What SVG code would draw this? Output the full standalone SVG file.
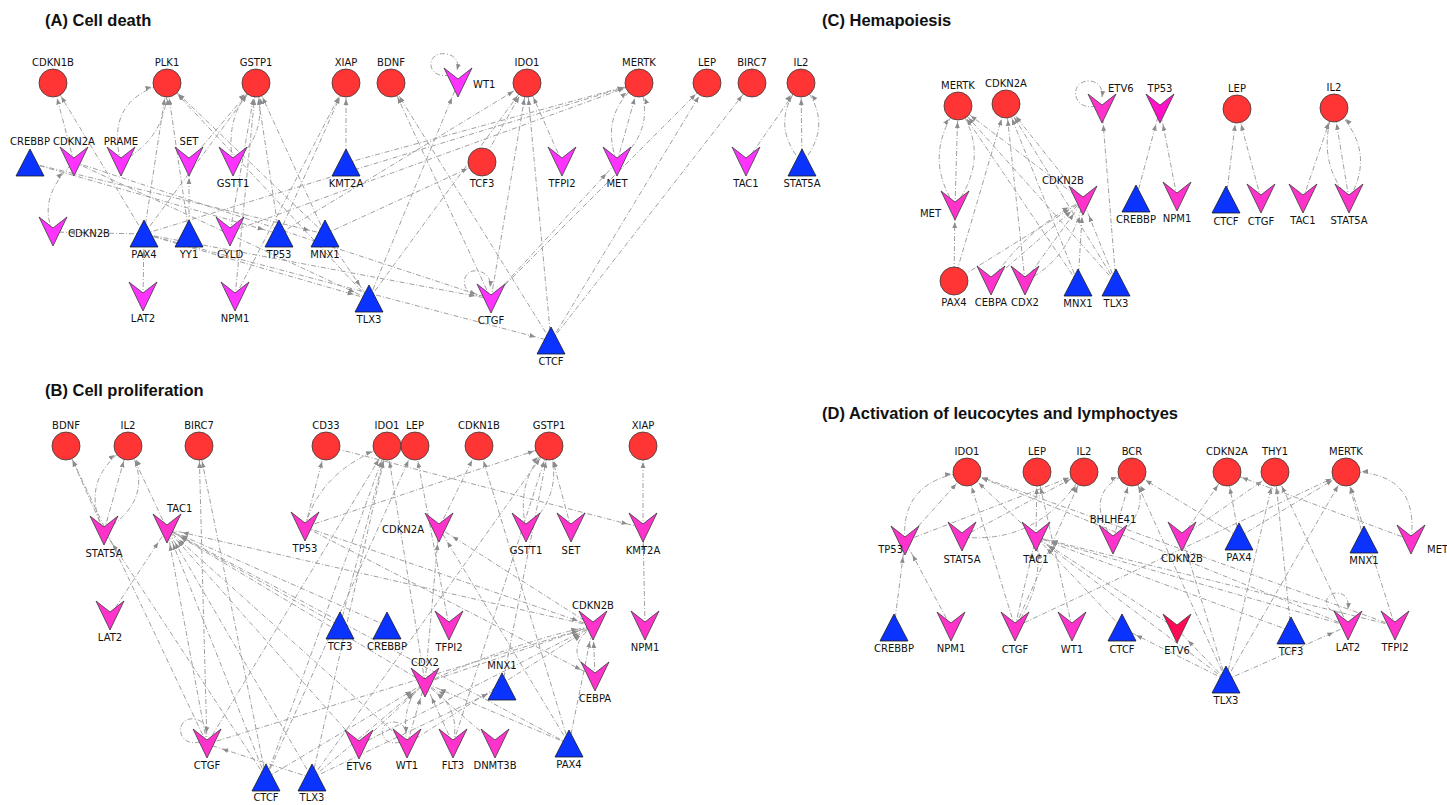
<svg xmlns="http://www.w3.org/2000/svg" xmlns:xlink="http://www.w3.org/1999/xlink" width="1447" height="805" viewBox="0 0 1447 805">
<style>
.c{fill:#ff3535;stroke:#3a3a3a;stroke-width:0.8}
.v{fill:#ff33ff;stroke:#3a3a3a;stroke-width:0.8}
.p{fill:#ff33cc;stroke:#3a3a3a;stroke-width:0.8}
.pd{fill:#ff10c8;stroke:#3a3a3a;stroke-width:0.8}
.r{fill:#ff0a55;stroke:#3a3a3a;stroke-width:0.8}
.t{fill:#0a33ff;stroke:#1a1a1a;stroke-width:0.8}
.l{font-family:"DejaVu Sans","Liberation Sans",sans-serif;font-size:10px;text-anchor:middle;fill:#111}
.ls{text-anchor:start}
.le{text-anchor:end}
.ttl{font-family:"Liberation Sans",Arial,sans-serif;font-size:16.5px;font-weight:bold;fill:#111}
.e line,.e path{stroke:#a0a0a0;stroke-width:1;fill:none;stroke-dasharray:5 2 1 2;marker-end:url(#ah)}
.e path.lp{marker-end:url(#ah0)}
</style>
<defs>
<marker id="ah" viewBox="0 0 22 6" refX="22" refY="3" markerWidth="22" markerHeight="6" markerUnits="userSpaceOnUse" orient="auto"><path d="M0,0.6 L6,3 L0,5.4 z" fill="#8c8c8c"/></marker>
<marker id="ah0" viewBox="0 0 6 6" refX="6" refY="3" markerWidth="6" markerHeight="6" markerUnits="userSpaceOnUse" orient="auto"><path d="M0,0.6 L6,3 L0,5.4 z" fill="#8c8c8c"/></marker>
<circle id="C" r="14"/>
<polygon id="V" points="-14,-15 0,-4 14,-15 0,14"/>
<polygon id="T" points="0,-14 14,13 -14,13"/>
</defs>
<rect width="1447" height="805" fill="#ffffff"/>

<text class="ttl" x="45" y="26">(A) Cell death</text>
<text class="ttl" x="45" y="396">(B) Cell proliferation</text>
<text class="ttl" x="822" y="26">(C) Hemapoiesis</text>
<text class="ttl" x="822" y="419">(D) Activation of leucocytes and lymphoctyes</text>

<g id="connectors" class="e">
<!-- Panel A -->
<line x1="74" y1="162" x2="53" y2="83"/>
<line x1="144" y1="234" x2="53" y2="83"/>
<path d="M121,162 Q104,99 167,83"/>
<path d="M121,162 Q169,136 167,83"/>
<line x1="144" y1="234" x2="167" y2="83"/>
<line x1="189" y1="234" x2="167" y2="83"/>
<line x1="325" y1="234" x2="167" y2="83"/>
<line x1="369" y1="299" x2="167" y2="83"/>
<path d="M233,162 Q224,115 256,83"/>
<path d="M233,162 Q270,135 256,83"/>
<line x1="189" y1="162" x2="256" y2="83"/>
<line x1="144" y1="234" x2="256" y2="83"/>
<line x1="230" y1="232" x2="256" y2="83"/>
<line x1="279" y1="234" x2="256" y2="83"/>
<line x1="325" y1="234" x2="256" y2="83"/>
<line x1="235" y1="297" x2="256" y2="83"/>
<line x1="346" y1="163" x2="346" y2="83"/>
<line x1="279" y1="234" x2="346" y2="83"/>
<line x1="235" y1="297" x2="346" y2="83"/>
<line x1="491" y1="299" x2="391" y2="83"/>
<line x1="551" y1="341" x2="391" y2="83"/>
<line x1="369" y1="299" x2="458" y2="83"/>
<line x1="482" y1="162" x2="527" y2="83"/>
<line x1="562" y1="162" x2="527" y2="83"/>
<line x1="491" y1="299" x2="527" y2="83"/>
<line x1="551" y1="341" x2="527" y2="83"/>
<line x1="369" y1="299" x2="527" y2="83"/>
<line x1="279" y1="234" x2="527" y2="83"/>
<line x1="144" y1="234" x2="639" y2="83"/>
<line x1="230" y1="232" x2="639" y2="83"/>
<path d="M617,162 Q599,114 639,83"/>
<path d="M617,162 Q657,130 639,83"/>
<line x1="617" y1="162" x2="639" y2="83"/>
<line x1="491" y1="299" x2="617" y2="162"/>
<line x1="491" y1="299" x2="707" y2="83"/>
<line x1="551" y1="341" x2="707" y2="83"/>
<line x1="551" y1="341" x2="752" y2="83"/>
<line x1="746" y1="162" x2="801" y2="83"/>
<path d="M802,163 Q768,123 801,83"/>
<path d="M802,163 Q836,123 801,83"/>
<line x1="802" y1="163" x2="801" y2="83"/>
<line x1="30" y1="163" x2="279" y2="234"/>
<line x1="30" y1="163" x2="325" y2="234"/>
<line x1="74" y1="162" x2="369" y2="299"/>
<line x1="74" y1="162" x2="491" y2="299"/>
<path d="M53,232 Q37,197 74,162"/>
<line x1="144" y1="234" x2="53" y2="232"/>
<line x1="144" y1="234" x2="369" y2="299"/>
<line x1="144" y1="234" x2="491" y2="299"/>
<line x1="144" y1="234" x2="551" y2="341"/>
<line x1="189" y1="234" x2="189" y2="162"/>
<line x1="143" y1="297" x2="144" y2="234"/>
<line x1="325" y1="234" x2="369" y2="299"/>
<line x1="346" y1="163" x2="639" y2="83"/>
<line x1="325" y1="234" x2="482" y2="162"/>
<path class="lp" d="M450,75 C425,80 425,50 447,54 C456,56 459,62 457,70"/>
<path class="lp" d="M484,295 C460,300 458,268 478,271 C488,273 491,280 490,287"/>

<!-- Panel B -->
<line x1="104" y1="531" x2="66" y2="446"/>
<line x1="207" y1="744" x2="66" y2="446"/>
<path d="M104,531 Q78,480 128,446"/>
<path d="M104,531 Q158,498 128,446"/>
<line x1="104" y1="531" x2="128" y2="446"/>
<line x1="167" y1="529" x2="128" y2="446"/>
<line x1="266" y1="778" x2="104" y2="531"/>
<line x1="207" y1="744" x2="199" y2="446"/>
<line x1="266" y1="778" x2="199" y2="446"/>
<line x1="110" y1="616" x2="167" y2="529"/>
<line x1="207" y1="744" x2="167" y2="529"/>
<line x1="266" y1="778" x2="167" y2="529"/>
<line x1="312" y1="778" x2="167" y2="529"/>
<line x1="359" y1="745" x2="167" y2="529"/>
<line x1="407" y1="744" x2="167" y2="529"/>
<line x1="593" y1="626" x2="167" y2="529"/>
<line x1="569" y1="744" x2="167" y2="529"/>
<line x1="340" y1="626" x2="167" y2="529"/>
<line x1="387" y1="626" x2="167" y2="529"/>
<line x1="425" y1="683" x2="167" y2="529"/>
<path d="M305,527 Q320,470 387,446"/>
<line x1="305" y1="527" x2="326" y2="446"/>
<line x1="305" y1="527" x2="549" y2="446"/>
<line x1="326" y1="446" x2="643" y2="528"/>
<line x1="305" y1="527" x2="593" y2="626"/>
<line x1="305" y1="527" x2="595" y2="677"/>
<line x1="207" y1="744" x2="387" y2="446"/>
<line x1="266" y1="778" x2="387" y2="446"/>
<line x1="312" y1="778" x2="387" y2="446"/>
<line x1="340" y1="626" x2="387" y2="446"/>
<line x1="425" y1="683" x2="387" y2="446"/>
<line x1="449" y1="626" x2="415" y2="446"/>
<line x1="266" y1="778" x2="415" y2="446"/>
<line x1="439" y1="528" x2="479" y2="446"/>
<line x1="569" y1="744" x2="479" y2="446"/>
<path d="M526,528 Q515,480 549,446"/>
<path d="M526,528 Q565,495 549,446"/>
<line x1="571" y1="528" x2="549" y2="446"/>
<line x1="502" y1="687" x2="549" y2="446"/>
<line x1="312" y1="778" x2="549" y2="446"/>
<line x1="453" y1="744" x2="549" y2="446"/>
<line x1="643" y1="528" x2="643" y2="446"/>
<line x1="645" y1="626" x2="643" y2="528"/>
<line x1="593" y1="626" x2="439" y2="528"/>
<line x1="569" y1="744" x2="439" y2="528"/>
<line x1="425" y1="683" x2="439" y2="528"/>
<path d="M595,677 Q560,651 593,626"/>
<line x1="595" y1="677" x2="593" y2="626"/>
<line x1="569" y1="744" x2="593" y2="626"/>
<line x1="425" y1="683" x2="593" y2="626"/>
<path d="M425,683 Q520,640 593,626"/>
<line x1="359" y1="745" x2="593" y2="626"/>
<line x1="207" y1="744" x2="593" y2="626"/>
<line x1="407" y1="744" x2="593" y2="626"/>
<path d="M407,744 Q400,700 425,683"/>
<line x1="407" y1="744" x2="425" y2="683"/>
<path d="M453,744 Q462,705 425,683"/>
<line x1="453" y1="744" x2="425" y2="683"/>
<line x1="495" y1="744" x2="425" y2="683"/>
<line x1="569" y1="744" x2="425" y2="683"/>
<line x1="266" y1="778" x2="425" y2="683"/>
<line x1="312" y1="778" x2="425" y2="683"/>
<line x1="359" y1="745" x2="425" y2="683"/>
<line x1="312" y1="778" x2="207" y2="744"/>
<line x1="312" y1="778" x2="502" y2="687"/>
<path class="lp" d="M200,742 C176,748 174,716 195,719 C204,721 207,727 206,733"/>
<path class="lp" d="M400,742 C380,748 376,722 393,722 C402,722 406,728 406,733"/>

<!-- Panel C -->
<path d="M955,206 Q922,156 958,106"/>
<path d="M955,206 Q992,156 958,106"/>
<line x1="955" y1="206" x2="958" y2="106"/>
<line x1="954" y1="281" x2="955" y2="206"/>
<line x1="954" y1="281" x2="1006" y2="104"/>
<line x1="1078" y1="283" x2="958" y2="106"/>
<line x1="1116" y1="283" x2="958" y2="106"/>
<line x1="1083" y1="201" x2="958" y2="106"/>
<line x1="1083" y1="201" x2="1006" y2="104"/>
<line x1="1078" y1="283" x2="1006" y2="104"/>
<line x1="1116" y1="283" x2="1006" y2="104"/>
<line x1="1025" y1="281" x2="1006" y2="104"/>
<line x1="954" y1="281" x2="1083" y2="201"/>
<path d="M991,281 Q1030,225 1083,201"/>
<line x1="991" y1="281" x2="1083" y2="201"/>
<path d="M1025,281 Q1070,260 1083,201"/>
<line x1="1025" y1="281" x2="1083" y2="201"/>
<line x1="1078" y1="283" x2="1083" y2="201"/>
<line x1="1116" y1="283" x2="1083" y2="201"/>
<line x1="1116" y1="283" x2="1102" y2="109"/>
<path class="lp" d="M1096,106 C1072,112 1068,80 1090,81 C1100,82 1103,90 1102,97"/>
<line x1="1136" y1="199" x2="1160" y2="109"/>
<line x1="1177" y1="197" x2="1160" y2="109"/>
<line x1="1226" y1="200" x2="1237" y2="109"/>
<line x1="1261" y1="199" x2="1237" y2="109"/>
<line x1="1303" y1="199" x2="1334" y2="108"/>
<line x1="1349" y1="199" x2="1334" y2="108"/>
<path d="M1349,199 Q1378,150 1334,108"/>
<path d="M1349,199 Q1315,160 1334,108"/>

<!-- Panel D -->
<path d="M905,541 Q900,480 967,472"/>
<line x1="905" y1="541" x2="967" y2="472"/>
<line x1="894" y1="628" x2="905" y2="541"/>
<line x1="951" y1="627" x2="905" y2="541"/>
<line x1="962" y1="537" x2="1084" y2="472"/>
<path d="M962,537 Q1040,545 1084,472"/>
<line x1="905" y1="541" x2="1084" y2="472"/>
<line x1="1015" y1="627" x2="967" y2="472"/>
<line x1="1036" y1="537" x2="967" y2="472"/>
<line x1="1036" y1="537" x2="1037" y2="472"/>
<line x1="1015" y1="627" x2="1346" y2="472"/>
<line x1="1015" y1="627" x2="1036" y2="537"/>
<path d="M1015,627 Q1045,585 1036,537"/>
<line x1="1015" y1="627" x2="1084" y2="472"/>
<line x1="1072" y1="627" x2="1037" y2="472"/>
<path d="M1113,540 Q1080,490 1132,472"/>
<path d="M1113,540 Q1155,510 1132,472"/>
<line x1="1113" y1="540" x2="1132" y2="472"/>
<line x1="1226" y1="680" x2="1132" y2="472"/>
<line x1="1239" y1="537" x2="1132" y2="472"/>
<line x1="1182" y1="537" x2="1227" y2="472"/>
<line x1="1239" y1="537" x2="1227" y2="472"/>
<line x1="1182" y1="537" x2="1275" y2="472"/>
<line x1="1239" y1="537" x2="1346" y2="472"/>
<line x1="1226" y1="680" x2="1275" y2="472"/>
<line x1="1291" y1="631" x2="1275" y2="472"/>
<line x1="1348" y1="626" x2="1275" y2="472"/>
<line x1="1364" y1="540" x2="1346" y2="472"/>
<path d="M1411,540 Q1420,470 1346,472"/>
<line x1="1411" y1="540" x2="1227" y2="472"/>
<line x1="1226" y1="680" x2="1346" y2="472"/>
<line x1="1395" y1="626" x2="1346" y2="472"/>
<line x1="1122" y1="628" x2="1036" y2="537"/>
<line x1="1226" y1="680" x2="1036" y2="537"/>
<line x1="1348" y1="626" x2="1036" y2="537"/>
<line x1="1395" y1="626" x2="1036" y2="537"/>
<line x1="1291" y1="631" x2="1036" y2="537"/>
<line x1="1177" y1="629" x2="1036" y2="537"/>
<line x1="1348" y1="626" x2="967" y2="472"/>
<line x1="1395" y1="626" x2="967" y2="472"/>
<line x1="1226" y1="680" x2="1122" y2="628"/>
<line x1="1226" y1="680" x2="1177" y2="629"/>
<line x1="1226" y1="680" x2="1348" y2="626"/>
<line x1="1226" y1="680" x2="1182" y2="537"/>
<path class="lp" d="M1342,612 C1322,614 1322,592 1338,593 C1346,594 1349,600 1348,609"/>
</g>

<!-- Panel A nodes -->
<g id="a-cdkn1b" transform="translate(53,83)"><use href="#C" class="c"/><text class="l" y="-17">CDKN1B</text></g>
<g id="a-plk1" transform="translate(167,83)"><use href="#C" class="c"/><text class="l" y="-17">PLK1</text></g>
<g id="a-gstp1" transform="translate(256,83)"><use href="#C" class="c"/><text class="l" y="-17">GSTP1</text></g>
<g id="a-xiap" transform="translate(346,83)"><use href="#C" class="c"/><text class="l" y="-17">XIAP</text></g>
<g id="a-bdnf" transform="translate(391,83)"><use href="#C" class="c"/><text class="l" y="-17">BDNF</text></g>
<g id="a-wt1" transform="translate(458,83)"><use href="#V" class="v"/><text class="l ls" x="15" y="5">WT1</text></g>
<g id="a-ido1" transform="translate(527,83)"><use href="#C" class="c"/><text class="l" y="-17">IDO1</text></g>
<g id="a-mertk" transform="translate(639,83)"><use href="#C" class="c"/><text class="l" y="-17">MERTK</text></g>
<g id="a-lep" transform="translate(707,83)"><use href="#C" class="c"/><text class="l" y="-17">LEP</text></g>
<g id="a-birc7" transform="translate(752,83)"><use href="#C" class="c"/><text class="l" y="-17">BIRC7</text></g>
<g id="a-il2" transform="translate(801,83)"><use href="#C" class="c"/><text class="l" y="-17">IL2</text></g>
<g id="a-crebbp" transform="translate(30,163)"><use href="#T" class="t"/><text class="l" y="-18">CREBBP</text></g>
<g id="a-cdkn2a" transform="translate(74,162)"><use href="#V" class="v"/><text class="l" y="-17">CDKN2A</text></g>
<g id="a-prame" transform="translate(121,162)"><use href="#V" class="v"/><text class="l" y="-17">PRAME</text></g>
<g id="a-set" transform="translate(189,162)"><use href="#V" class="v"/><text class="l" y="-17">SET</text></g>
<g id="a-gstt1" transform="translate(233,162)"><use href="#V" class="v"/><text class="l" y="25">GSTT1</text></g>
<g id="a-kmt2a" transform="translate(346,163)"><use href="#T" class="t"/><text class="l" y="24">KMT2A</text></g>
<g id="a-tcf3" transform="translate(482,162)"><use href="#C" class="c"/><text class="l" y="25">TCF3</text></g>
<g id="a-tfpi2" transform="translate(562,162)"><use href="#V" class="v"/><text class="l" y="25">TFPI2</text></g>
<g id="a-met" transform="translate(617,162)"><use href="#V" class="v"/><text class="l" y="25">MET</text></g>
<g id="a-tac1" transform="translate(746,162)"><use href="#V" class="v"/><text class="l" y="25">TAC1</text></g>
<g id="a-stat5a" transform="translate(802,163)"><use href="#T" class="t"/><text class="l" y="24">STAT5A</text></g>
<g id="a-cdkn2b" transform="translate(53,232)"><use href="#V" class="v"/><text class="l ls" x="15" y="5">CDKN2B</text></g>
<g id="a-pax4" transform="translate(144,234)"><use href="#T" class="t"/><text class="l" y="24">PAX4</text></g>
<g id="a-yy1" transform="translate(189,234)"><use href="#T" class="t"/><text class="l" y="24">YY1</text></g>
<g id="a-cyld" transform="translate(230,232)"><use href="#V" class="v"/><text class="l" y="26">CYLD</text></g>
<g id="a-tp53" transform="translate(279,234)"><use href="#T" class="t"/><text class="l" y="24">TP53</text></g>
<g id="a-mnx1" transform="translate(325,234)"><use href="#T" class="t"/><text class="l" y="24">MNX1</text></g>
<g id="a-lat2" transform="translate(143,297)"><use href="#V" class="v"/><text class="l" y="25">LAT2</text></g>
<g id="a-npm1" transform="translate(235,297)"><use href="#V" class="v"/><text class="l" y="25">NPM1</text></g>
<g id="a-tlx3" transform="translate(369,299)"><use href="#T" class="t"/><text class="l" y="24">TLX3</text></g>
<g id="a-ctgf" transform="translate(491,299)"><use href="#V" class="v"/><text class="l" y="25">CTGF</text></g>
<g id="a-ctcf" transform="translate(551,341)"><use href="#T" class="t"/><text class="l" y="24">CTCF</text></g>

<!-- Panel B nodes -->
<g id="b-bdnf" transform="translate(66,446)"><use href="#C" class="c"/><text class="l" y="-17">BDNF</text></g>
<g id="b-il2" transform="translate(128,446)"><use href="#C" class="c"/><text class="l" y="-17">IL2</text></g>
<g id="b-birc7" transform="translate(199,446)"><use href="#C" class="c"/><text class="l" y="-17">BIRC7</text></g>
<g id="b-cd33" transform="translate(326,446)"><use href="#C" class="c"/><text class="l" y="-17">CD33</text></g>
<g id="b-ido1" transform="translate(387,446)"><use href="#C" class="c"/><text class="l" y="-17">IDO1</text></g>
<g id="b-lep" transform="translate(415,446)"><use href="#C" class="c"/><text class="l" y="-17">LEP</text></g>
<g id="b-cdkn1b" transform="translate(479,446)"><use href="#C" class="c"/><text class="l" y="-17">CDKN1B</text></g>
<g id="b-gstp1" transform="translate(549,446)"><use href="#C" class="c"/><text class="l" y="-17">GSTP1</text></g>
<g id="b-xiap" transform="translate(643,446)"><use href="#C" class="c"/><text class="l" y="-17">XIAP</text></g>
<g id="b-stat5a" transform="translate(104,531)"><use href="#V" class="p"/><text class="l" y="26">STAT5A</text></g>
<g id="b-tac1" transform="translate(167,529)"><use href="#V" class="p"/><text class="l ls" x="0" y="-17">TAC1</text></g>
<g id="b-tp53" transform="translate(305,527)"><use href="#V" class="p"/><text class="l" y="25">TP53</text></g>
<g id="b-cdkn2a" transform="translate(439,528)"><use href="#V" class="p"/><text class="l le" x="-15" y="5">CDKN2A</text></g>
<g id="b-gstt1" transform="translate(526,528)"><use href="#V" class="p"/><text class="l" y="26">GSTT1</text></g>
<g id="b-set" transform="translate(571,528)"><use href="#V" class="p"/><text class="l" y="26">SET</text></g>
<g id="b-kmt2a" transform="translate(643,528)"><use href="#V" class="p"/><text class="l" y="26">KMT2A</text></g>
<g id="b-lat2" transform="translate(110,616)"><use href="#V" class="p"/><text class="l" y="25">LAT2</text></g>
<g id="b-tcf3" transform="translate(340,626)"><use href="#T" class="t"/><text class="l" y="24">TCF3</text></g>
<g id="b-crebbp" transform="translate(387,626)"><use href="#T" class="t"/><text class="l" y="24">CREBBP</text></g>
<g id="b-tfpi2" transform="translate(449,626)"><use href="#V" class="p"/><text class="l" y="25">TFPI2</text></g>
<g id="b-cdkn2b" transform="translate(593,626)"><use href="#V" class="p"/><text class="l" y="-17">CDKN2B</text></g>
<g id="b-npm1" transform="translate(645,626)"><use href="#V" class="p"/><text class="l" y="25">NPM1</text></g>
<g id="b-cdx2" transform="translate(425,683)"><use href="#V" class="p"/><text class="l" y="-17">CDX2</text></g>
<g id="b-mnx1" transform="translate(502,687)"><use href="#T" class="t"/><text class="l" y="-18">MNX1</text></g>
<g id="b-cebpa" transform="translate(595,677)"><use href="#V" class="p"/><text class="l" y="25">CEBPA</text></g>
<g id="b-ctgf" transform="translate(207,744)"><use href="#V" class="p"/><text class="l" y="25">CTGF</text></g>
<g id="b-ctcf" transform="translate(266,778)"><use href="#T" class="t"/><text class="l" y="23">CTCF</text></g>
<g id="b-tlx3" transform="translate(312,778)"><use href="#T" class="t"/><text class="l" y="23">TLX3</text></g>
<g id="b-etv6" transform="translate(359,745)"><use href="#V" class="p"/><text class="l" y="25">ETV6</text></g>
<g id="b-wt1" transform="translate(407,744)"><use href="#V" class="p"/><text class="l" y="25">WT1</text></g>
<g id="b-flt3" transform="translate(453,744)"><use href="#V" class="p"/><text class="l" y="25">FLT3</text></g>
<g id="b-dnmt3b" transform="translate(495,744)"><use href="#V" class="p"/><text class="l" y="25">DNMT3B</text></g>
<g id="b-pax4" transform="translate(569,744)"><use href="#T" class="t"/><text class="l" y="24">PAX4</text></g>

<!-- Panel C nodes -->
<g id="c-mertk" transform="translate(958,106)"><use href="#C" class="c"/><text class="l" y="-17">MERTK</text></g>
<g id="c-cdkn2a" transform="translate(1006,104)"><use href="#C" class="c"/><text class="l" y="-17">CDKN2A</text></g>
<g id="c-etv6" transform="translate(1102,109)"><use href="#V" class="p"/><text class="l ls" x="6" y="-17">ETV6</text></g>
<g id="c-tp53" transform="translate(1160,109)"><use href="#V" class="pd"/><text class="l" y="-17">TP53</text></g>
<g id="c-lep" transform="translate(1237,109)"><use href="#C" class="c"/><text class="l" y="-17">LEP</text></g>
<g id="c-il2" transform="translate(1334,108)"><use href="#C" class="c"/><text class="l" y="-17">IL2</text></g>
<g id="c-cdkn2b" transform="translate(1083,201)"><use href="#V" class="p"/><text class="l" x="-20" y="-17">CDKN2B</text></g>
<g id="c-met" transform="translate(955,206)"><use href="#V" class="p"/><text class="l le" x="-14" y="11">MET</text></g>
<g id="c-crebbp" transform="translate(1136,199)"><use href="#T" class="t"/><text class="l" y="24">CREBBP</text></g>
<g id="c-npm1" transform="translate(1177,197)"><use href="#V" class="p"/><text class="l" y="25">NPM1</text></g>
<g id="c-ctcf" transform="translate(1226,200)"><use href="#T" class="t"/><text class="l" y="25">CTCF</text></g>
<g id="c-ctgf" transform="translate(1261,199)"><use href="#V" class="p"/><text class="l" y="26">CTGF</text></g>
<g id="c-tac1" transform="translate(1303,199)"><use href="#V" class="p"/><text class="l" y="25">TAC1</text></g>
<g id="c-stat5a" transform="translate(1349,199)"><use href="#V" class="p"/><text class="l" y="25">STAT5A</text></g>
<g id="c-pax4" transform="translate(954,281)"><use href="#C" class="c"/><text class="l" y="25">PAX4</text></g>
<g id="c-cebpa" transform="translate(991,281)"><use href="#V" class="p"/><text class="l" y="25">CEBPA</text></g>
<g id="c-cdx2" transform="translate(1025,281)"><use href="#V" class="p"/><text class="l" y="25">CDX2</text></g>
<g id="c-mnx1" transform="translate(1078,283)"><use href="#T" class="t"/><text class="l" y="24">MNX1</text></g>
<g id="c-tlx3" transform="translate(1116,283)"><use href="#T" class="t"/><text class="l" y="24">TLX3</text></g>

<!-- Panel D nodes -->
<g id="d-ido1" transform="translate(967,472)"><use href="#C" class="c"/><text class="l" y="-17">IDO1</text></g>
<g id="d-lep" transform="translate(1037,472)"><use href="#C" class="c"/><text class="l" y="-17">LEP</text></g>
<g id="d-il2" transform="translate(1084,472)"><use href="#C" class="c"/><text class="l" y="-17">IL2</text></g>
<g id="d-bcr" transform="translate(1132,472)"><use href="#C" class="c"/><text class="l" y="-17">BCR</text></g>
<g id="d-cdkn2a" transform="translate(1227,472)"><use href="#C" class="c"/><text class="l" y="-17">CDKN2A</text></g>
<g id="d-thy1" transform="translate(1275,472)"><use href="#C" class="c"/><text class="l" y="-17">THY1</text></g>
<g id="d-mertk" transform="translate(1346,472)"><use href="#C" class="c"/><text class="l" y="-17">MERTK</text></g>
<g id="d-tp53" transform="translate(905,541)"><use href="#V" class="p"/><text class="l le" x="-2" y="12">TP53</text></g>
<g id="d-stat5a" transform="translate(962,537)"><use href="#V" class="p"/><text class="l" y="26">STAT5A</text></g>
<g id="d-tac1" transform="translate(1036,537)"><use href="#V" class="p"/><text class="l" y="26">TAC1</text></g>
<g id="d-bhlhe41" transform="translate(1113,540)"><use href="#V" class="p"/><text class="l" y="-17">BHLHE41</text></g>
<g id="d-cdkn2b" transform="translate(1182,537)"><use href="#V" class="p"/><text class="l" y="25">CDKN2B</text></g>
<g id="d-pax4" transform="translate(1239,537)"><use href="#T" class="t"/><text class="l" y="24">PAX4</text></g>
<g id="d-mnx1" transform="translate(1364,540)"><use href="#T" class="t"/><text class="l" y="24">MNX1</text></g>
<g id="d-met" transform="translate(1411,540)"><use href="#V" class="p"/><text class="l ls" x="16" y="13">MET</text></g>
<g id="d-crebbp" transform="translate(894,628)"><use href="#T" class="t"/><text class="l" y="24">CREBBP</text></g>
<g id="d-npm1" transform="translate(951,627)"><use href="#V" class="p"/><text class="l" y="25">NPM1</text></g>
<g id="d-ctgf" transform="translate(1015,627)"><use href="#V" class="p"/><text class="l" y="26">CTGF</text></g>
<g id="d-wt1" transform="translate(1072,627)"><use href="#V" class="p"/><text class="l" y="26">WT1</text></g>
<g id="d-ctcf" transform="translate(1122,628)"><use href="#T" class="t"/><text class="l" y="25">CTCF</text></g>
<g id="d-etv6" transform="translate(1177,629)"><use href="#V" class="r"/><text class="l" y="25">ETV6</text></g>
<g id="d-tcf3" transform="translate(1291,631)"><use href="#T" class="t"/><text class="l" y="24">TCF3</text></g>
<g id="d-lat2" transform="translate(1348,626)"><use href="#V" class="p"/><text class="l" y="25">LAT2</text></g>
<g id="d-tfpi2" transform="translate(1395,626)"><use href="#V" class="p"/><text class="l" y="25">TFPI2</text></g>
<g id="d-tlx3" transform="translate(1226,680)"><use href="#T" class="t"/><text class="l" y="24">TLX3</text></g>
</svg>
